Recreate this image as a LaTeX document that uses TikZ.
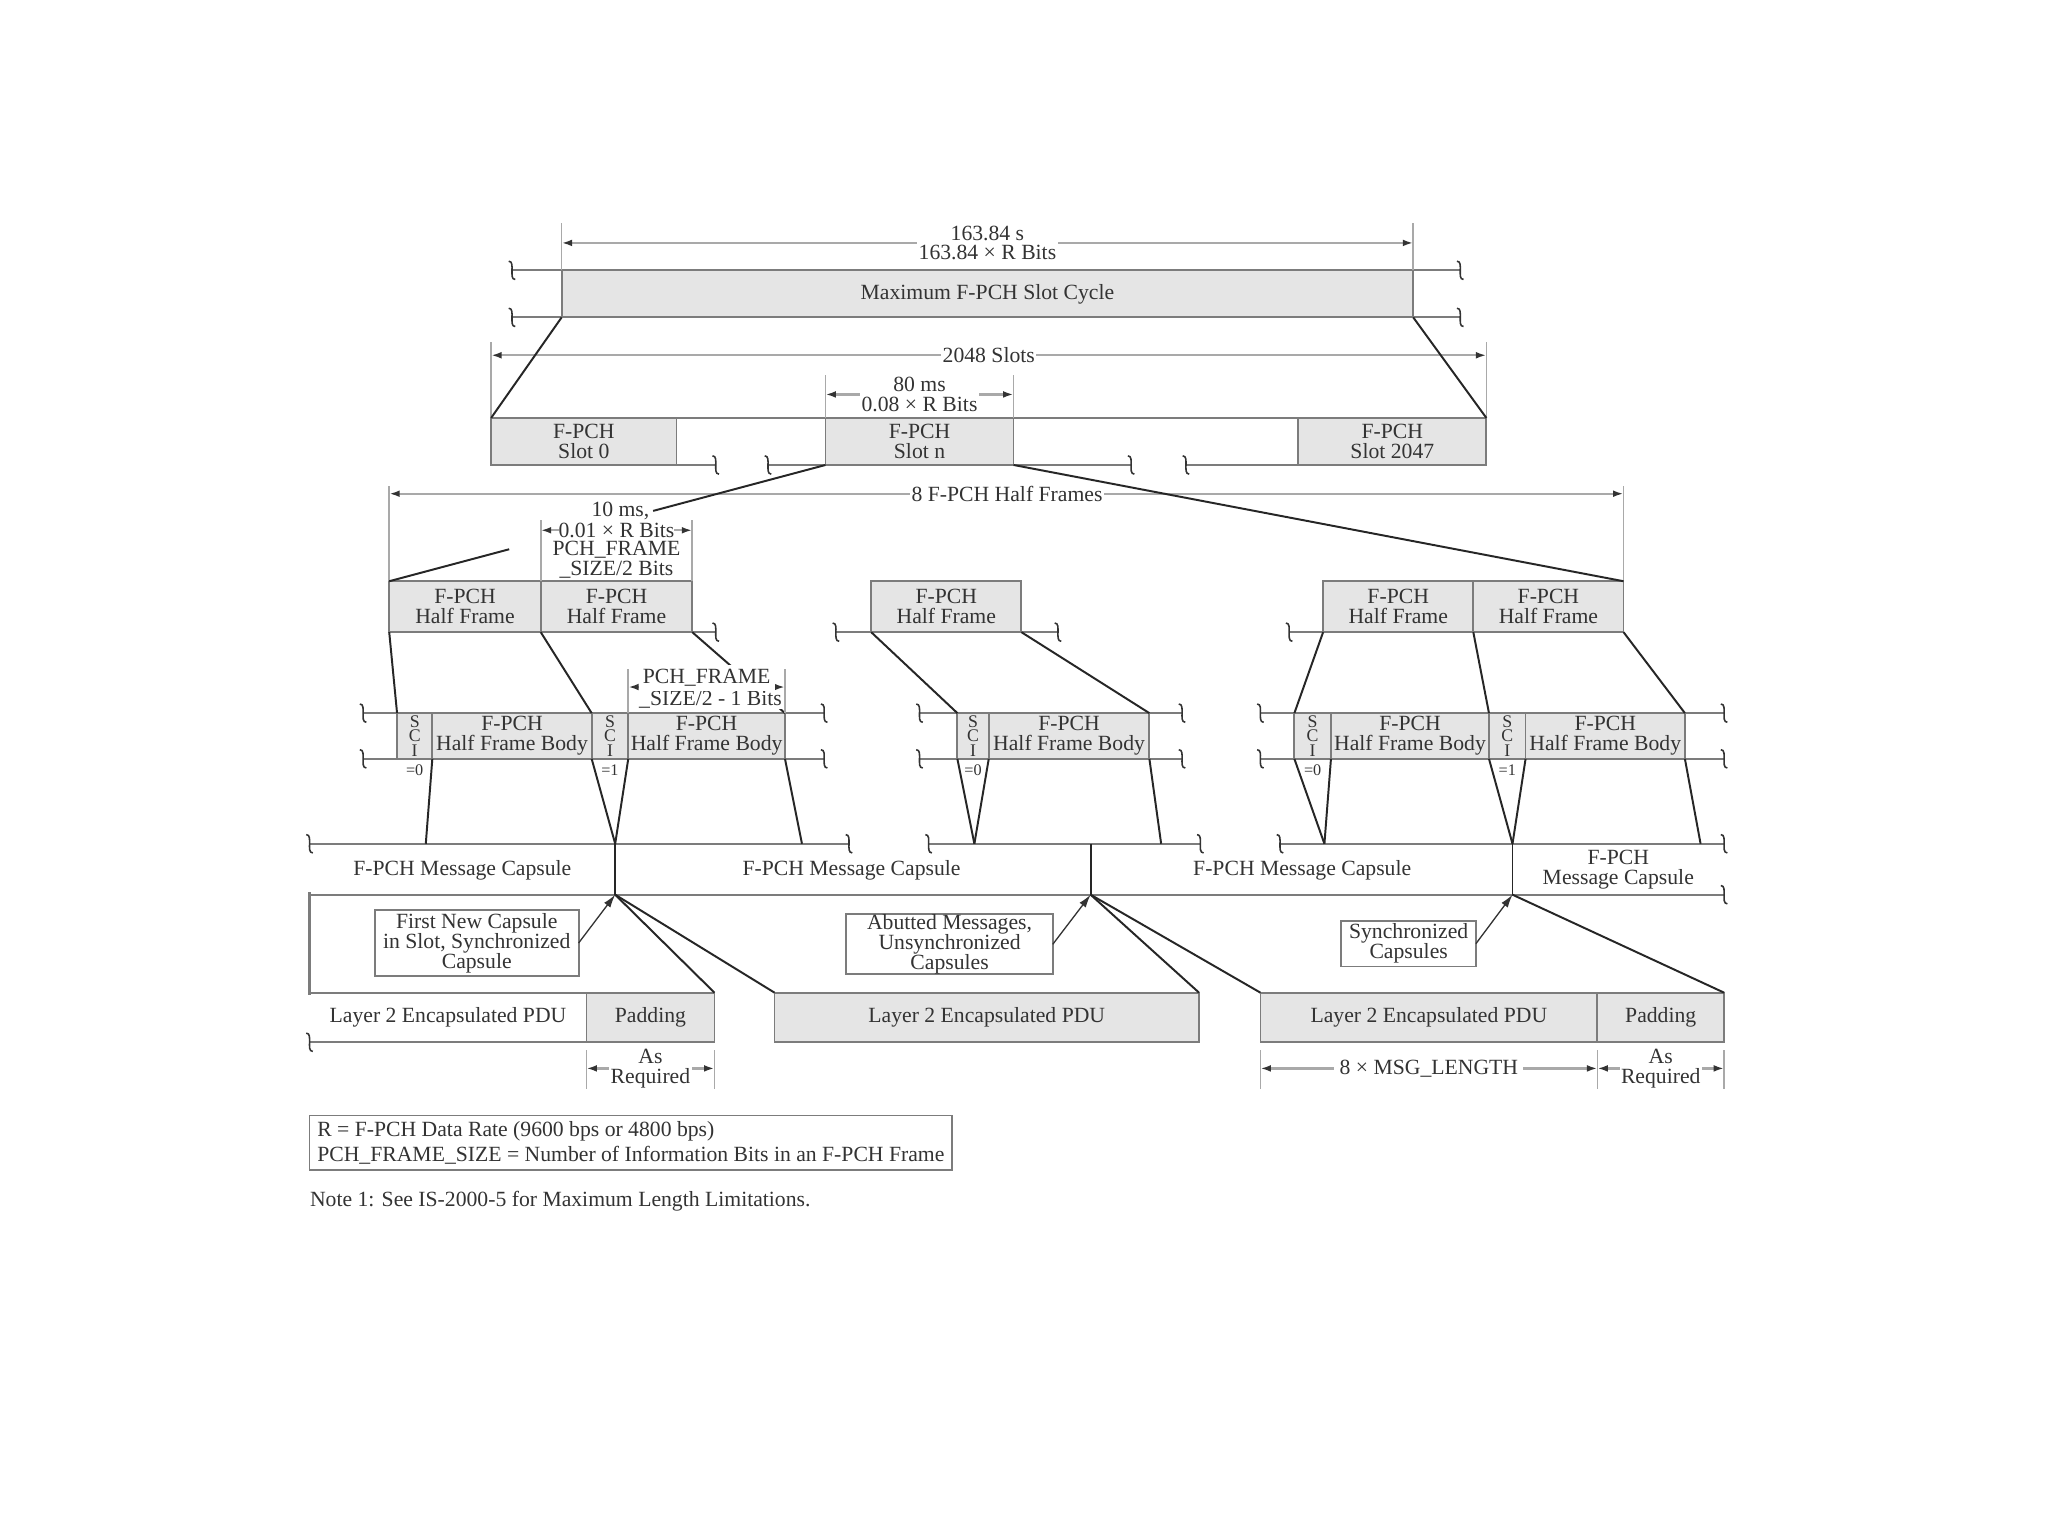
\documentclass[tikz,border=0pt]{standalone}
\usepackage{fontspec}
\setmainfont{Liberation Serif}
\usetikzlibrary{arrows.meta,calc}
\definecolor{ink}{HTML}{333333}
\definecolor{boxline}{HTML}{7C7C7C}
\definecolor{boxfill}{HTML}{E5E5E5}
\definecolor{dimline}{HTML}{A9A9A9}
\newcommand\lblfont{\fontsize{8.3}{7.6}\selectfont}
\newcommand\scifont{\fontsize{6.8}{5.6}\selectfont}
\newcommand\eqfont{\fontsize{6.2}{6}\selectfont}
\newcommand\legfont{\fontsize{8.3}{9.6}\selectfont}
\tikzset{
  gbox/.style={draw=boxline,fill=boxfill,line width=0.7pt,inner sep=0pt,outer sep=0pt,align=center,text=ink,font=\lblfont},
  wbox/.style={draw=boxline,fill=white,line width=0.7pt,inner sep=0pt,outer sep=0pt,align=center,text=ink,font=\lblfont},
  scibox/.style={gbox,font=\scifont},
  sz/.style 2 args={minimum width={#1*0.5pt},minimum height={#2*0.5pt}},
  txt/.style={inner sep=0.5pt,align=center,text=ink,font=\lblfont},
  dimlabel/.style={txt,fill=white},
  eqlabel/.style={inner sep=0pt,text=ink,font=\eqfont},
  rowline/.style={draw=boxline,line width=0.7pt},
  fan/.style={draw=black!85,line width=0.75pt},
  extline/.style={draw=dimline,line width=0.6pt},
  dimarrow/.style={draw=dimline,line width=0.9pt,{Latex[length=4pt,width=2.6pt,color=ink]}-{Latex[length=4pt,width=2.6pt,color=ink]}},
  callarrow/.style={draw=ink,line width=0.5pt,-{Latex[length=5pt,width=3pt]}},
  brk/.pic={\draw[ink,line width=0.6pt] (-2.5,-7) .. controls (0.5,-7) and (0,-3) .. (0,0) .. controls (0,3) and (-0.5,7) .. (2.5,7);},
}
\begin{document}
\begin{tikzpicture}[x=0.5pt,y=-0.5pt]
\useasboundingbox (0,0) rectangle (1568,1176);
\fill[white] (0,0) rectangle (1568,1176);

% ---------- Row 1 ----------
\draw[rowline] (392,207) -- (1118,207);
\draw[rowline] (392,243) -- (1118,243);
\foreach \x in {392,1118}{\pic at (\x,207) {brk}; \pic at (\x,243) {brk};}
\node[gbox,sz={652}{36}] (cycle) at (756,225) {Maximum F-PCH Slot Cycle};
\draw[extline] (cycle.north west) -- ++(0,-36);
\draw[extline] (cycle.north east) -- ++(0,-36);
\coordinate (d1l) at ($(cycle.north west)+(0,-21)$);
\coordinate (d1r) at ($(cycle.north east)+(0,-21)$);
\draw[dimarrow] (d1l) -- (d1r);
\node[dimlabel] (d1t) at ($(d1l)!0.5!(d1r)$) {163.84 s\\163.84 × R Bits};

% ---------- Row 2 ----------
\draw[rowline] (376,320) -- (1138,320);
\draw[rowline] (376,356) -- (548,356);
\draw[rowline] (588,356) -- (866,356);
\draw[rowline] (908,356) -- (1138,356);
\foreach \x in {548,588,866,908}{\pic at (\x,356) {brk};}
\node[gbox,sz={142}{36}] (slot0) at (447,338) {F-PCH\\Slot 0};
\node[gbox,sz={144}{36}] (slotn) at (704,338) {F-PCH\\Slot n};
\node[gbox,sz={144}{36}] (slotl) at (1066,338) {F-PCH\\Slot 2047};
\draw[extline] (slot0.north west) -- ++(0,-58);
\draw[extline] (slotl.north east) -- ++(0,-58);
\coordinate (d2l) at ($(slot0.north west)+(0,-48)$);
\coordinate (d2r) at ($(slotl.north east)+(0,-48)$);
\draw[dimarrow] (d2l) -- (d2r);
\node[dimlabel] (d2t) at ($(d2l)!0.5!(d2r)$) {2048 Slots};
\draw[fan] (cycle.south west) -- (slot0.north west);
\draw[fan] (cycle.south east) -- (slotl.north east);
\draw[extline] (slotn.north west) -- ++(0,-33);
\draw[extline] (slotn.north east) -- ++(0,-33);
\coordinate (d3l) at ($(slotn.north west)+(0,-18)$);
\coordinate (d3r) at ($(slotn.north east)+(0,-18)$);
\draw[dimarrow] (d3l) -- (d3r);
\node[dimlabel] (d3t) at ($(d3l)!0.5!(d3r)$) {80 ms\\0.08 × R Bits};

% ---------- Row 3 ----------
\draw[rowline] (298,484) -- (548,484);
\draw[rowline] (640,484) -- (810,484);
\draw[rowline] (987,484) -- (1243,484);
\foreach \x in {548,640,810,987}{\pic at (\x,484) {brk};}
\node[gbox,sz={116}{39}] (hfA) at (356,464.5) {F-PCH\\Half Frame};
\node[gbox,sz={116}{39}] (hfB) at (472,464.5) {F-PCH\\Half Frame};
\node[gbox,sz={115}{39}] (hfC) at (724.5,464.5) {F-PCH\\Half Frame};
\node[gbox,sz={115}{39}] (hfD) at (1070.5,464.5) {F-PCH\\Half Frame};
\node[gbox,sz={115}{39}] (hfE) at (1185.5,464.5) {F-PCH\\Half Frame};
\draw[extline] (hfA.north west) -- ++(0,-73);
\draw[extline] (hfE.north east) -- ++(0,-73);
\coordinate (d4l) at ($(hfA.north west)+(0,-67)$);
\coordinate (d4r) at ($(hfE.north east)+(0,-67)$);
\draw[dimarrow] (d4l) -- (d4r);
\node[dimlabel] (d4t) at (771,378) {8 F-PCH Half Frames};
\draw[extline] (hfB.north west) -- ++(0,-47);
\draw[extline] (hfB.north east) -- ++(0,-47);
\coordinate (d5l) at ($(hfB.north west)+(0,-39)$);
\coordinate (d5r) at ($(hfB.north east)+(0,-39)$);
\draw[dimarrow] (d5l) -- (d5r);
\node[txt] (d5a) at (475,391) {10 ms,};
\node[dimlabel,inner sep=0pt] (d5b) at (472,406) {0.01 × R Bits};
\node[txt] (d5c) at (472,421) {PCH\_FRAME};
\node[txt] (d5d) at (472,436) {\_SIZE/2 Bits};
\path (slotn.south west) -- (hfA.north west) coordinate[pos=0.395] (fa1) coordinate[pos=0.725] (fa2);
\draw[fan] (slotn.south west) -- (fa1);
\draw[fan] (fa2) -- (hfA.north west);
\draw[fan] (slotn.south east) -- (hfE.north east);

% ---------- Row 4 ----------
\foreach \a/\b in {278/631,704/905,965/1320}{
  \draw[rowline] (\a,546) -- (\b,546);
  \draw[rowline] (\a,581) -- (\b,581);
  \pic at (\a,546) {brk}; \pic at (\a,581) {brk};
  \pic at (\b,546) {brk}; \pic at (\b,581) {brk};
}
\node[scibox,sz={27}{35}] (sciA) at (317.5,563.5) {S\\C\\I};
\node[gbox,sz={122}{35}] (bodyA) at (392,563.5) {F-PCH\\Half Frame Body};
\node[scibox,sz={28}{35}] (sciB) at (467,563.5) {S\\C\\I};
\node[gbox,sz={120}{35}] (bodyB) at (541,563.5) {F-PCH\\Half Frame Body};
\node[scibox,sz={24}{35}] (sciC) at (745,563.5) {S\\C\\I};
\node[gbox,sz={123}{35}] (bodyC) at (818.5,563.5) {F-PCH\\Half Frame Body};
\node[scibox,sz={28}{35}] (sciD) at (1005,563.5) {S\\C\\I};
\node[gbox,sz={121}{35}] (bodyD) at (1079.5,563.5) {F-PCH\\Half Frame Body};
\node[scibox,sz={28}{35}] (sciE) at (1154,563.5) {S\\C\\I};
\node[gbox,sz={122}{35}] (bodyE) at (1229,563.5) {F-PCH\\Half Frame Body};
\node[eqlabel] (eqA) at ($(sciA.south)+(0,9)$) {=0};
\node[eqlabel] (eqB) at ($(sciB.south)+(0,9)$) {=1};
\node[eqlabel] (eqC) at ($(sciC.south)+(0,9)$) {=0};
\node[eqlabel] (eqD) at ($(sciD.south)+(0,9)$) {=0};
\node[eqlabel] (eqE) at ($(sciE.south)+(0,9)$) {=1};
\draw[fan] (hfA.south west) -- (sciA.north west);
\draw[fan] (hfB.south west) -- (sciB.north west);
\draw[fan] (hfB.south east) -- (bodyB.north east);
\draw[fan] (hfC.south west) -- (sciC.north west);
\draw[fan] (hfC.south east) -- (bodyC.north east);
\draw[fan] (hfD.south west) -- (sciD.north west);
\draw[fan] (hfD.south east) -- (sciE.north west);
\draw[fan] (hfE.south east) -- (bodyE.north east);
\draw[extline] (bodyB.north west) -- ++(0,-34);
\draw[extline] (bodyB.north east) -- ++(0,-34);
\node[dimlabel,inner sep=0.3pt] (d6b) at (544,536) {\_SIZE/2 - 1 Bits};
\coordinate (d6l) at ($(bodyB.north west)+(0,-20)$);
\coordinate (d6r) at ($(bodyB.north east)+(0,-20)$);
\draw[dimarrow] (d6l) -- (d6r);
\node[dimlabel,inner sep=1.6pt] (d6a) at (541,519) {PCH\_FRAME};

% ---------- Row 5 ----------
\foreach \a/\b in {237/650,711/919,980/1320}{
  \draw[rowline] (\a,646) -- (\b,646);
  \pic at (\a,646) {brk}; \pic at (\b,646) {brk};
}
\draw[rowline] (237,685) -- (1320,685);
\pic at (1320,685) {brk};
\draw[rowline,line width=1.3pt] (237,683) -- (237,762);
\coordinate (mA1) at (326,646);
\coordinate (mA2) at (614,646);
\coordinate (mB1) at (746,646);
\coordinate (mB2) at (889,646);
\coordinate (mC1) at (1014,646);
\coordinate (mC2) at (1302,646);
\coordinate (cA) at (471,646); \coordinate (pA) at (471,685);
\coordinate (cB) at (835,646); \coordinate (pB) at (835,685);
\coordinate (cC) at (1158,646); \coordinate (pC) at (1158,685);
\draw[fan] (cA) -- (pA);
\draw[fan] (cB) -- (pB);
\draw[fan] (cC) -- (pC);
\draw[fan] (bodyA.south west) -- (mA1);
\draw[fan] (sciB.south west) -- (cA);
\draw[fan] (sciB.south east) -- (cA);
\draw[fan] (bodyB.south east) -- (mA2);
\draw[fan] (sciC.south west) -- (mB1);
\draw[fan] (sciC.south east) -- (mB1);
\draw[fan] (bodyC.south east) -- (mB2);
\draw[fan] (sciD.south west) -- (mC1);
\draw[fan] (sciD.south east) -- (mC1);
\draw[fan] (sciE.south west) -- (cC);
\draw[fan] (sciE.south east) -- (cC);
\draw[fan] (bodyE.south east) -- (mC2);
\node[txt] (capA) at (354,666) {F-PCH Message Capsule};
\node[txt] (capB) at (652,666) {F-PCH Message Capsule};
\node[txt] (capC) at (997,666) {F-PCH Message Capsule};
\node[txt] (capD) at (1239,666) {F-PCH\\Message Capsule};

% ---------- Row 6 ----------
\draw[rowline] (237,760) -- (547,760);
\draw[rowline] (237,798) -- (547,798);
\pic at (237,798) {brk};
\node[txt] (pduA) at (343,779) {Layer 2 Encapsulated PDU};
\node[gbox,sz={98}{38}] (padA) at (498,779) {Padding};
\node[gbox,sz={325}{38}] (pduB) at (755.5,779) {Layer 2 Encapsulated PDU};
\node[gbox,sz={258}{38}] (pduC) at (1094,779) {Layer 2 Encapsulated PDU};
\node[gbox,sz={97}{38}] (padC) at (1271.5,779) {Padding};
\draw[fan] (pA) -- (padA.north east);
\draw[fan] (pA) -- (pduB.north west);
\draw[fan] (pB) -- (pduB.north east);
\draw[fan] (pB) -- (pduC.north west);
\draw[fan] (pC) -- (padC.north east);

\node[wbox,sz={156}{50}] (calA) at (365,722) {First New Capsule\\in Slot, Synchronized\\Capsule};
\node[wbox,sz={158}{46}] (calB) at (727,723) {Abutted Messages,\\Unsynchronized\\Capsules};
\node[wbox,sz={103}{35}] (calC) at (1078.5,722.5) {Synchronized\\Capsules};
\draw[callarrow] (calA.east) -- (pA);
\draw[callarrow] (calB.east) -- (pB);
\draw[callarrow] (calC.east) -- (pC);

% bottom dimensions
\draw[extline] ($(padA.south west)+(0,6)$) -- ++(0,30);
\draw[extline] ($(padA.south east)+(0,6)$) -- ++(0,30);
\draw[extline] ($(pduC.south west)+(0,6)$) -- ++(0,30);
\draw[extline] ($(pduC.south east)+(0,6)$) -- ++(0,30);
\draw[extline] ($(padC.south east)+(0,6)$) -- ++(0,30);
\coordinate (d7l) at ($(padA.south west)+(0,20)$);
\coordinate (d7r) at ($(padA.south east)+(0,20)$);
\draw[dimarrow] (d7l) -- (d7r);
\node[dimlabel] (d7t) at ($(d7l)!0.5!(d7r)$) {As\\Required};
\coordinate (d8l) at ($(pduC.south west)+(0,20)$);
\coordinate (d8r) at ($(pduC.south east)+(0,20)$);
\draw[dimarrow] (d8l) -- (d8r);
\node[dimlabel,inner sep=2pt] (d8t) at ($(d8l)!0.5!(d8r)$) {8 × MSG\_LENGTH};
\coordinate (d9l) at ($(padC.south west)+(0,20)$);
\coordinate (d9r) at ($(padC.south east)+(0,20)$);
\draw[dimarrow] (d9l) -- (d9r);
\node[dimlabel] (d9t) at ($(d9l)!0.5!(d9r)$) {As\\Required};

% legend and note
\node[draw=boxline,line width=0.7pt,inner sep=0pt,sz={492}{42},align=left,text=ink,font=\legfont] (legend) at (483,875)
  {R = F-PCH Data Rate (9600 bps or 4800 bps)\\PCH\_FRAME\_SIZE = Number of Information Bits in an F-PCH Frame};
\node[anchor=west,inner sep=0pt,text=ink,font=\lblfont] (note) at (237,920) {Note 1: See IS-2000-5 for Maximum Length Limitations.};
\end{tikzpicture}
\end{document}
